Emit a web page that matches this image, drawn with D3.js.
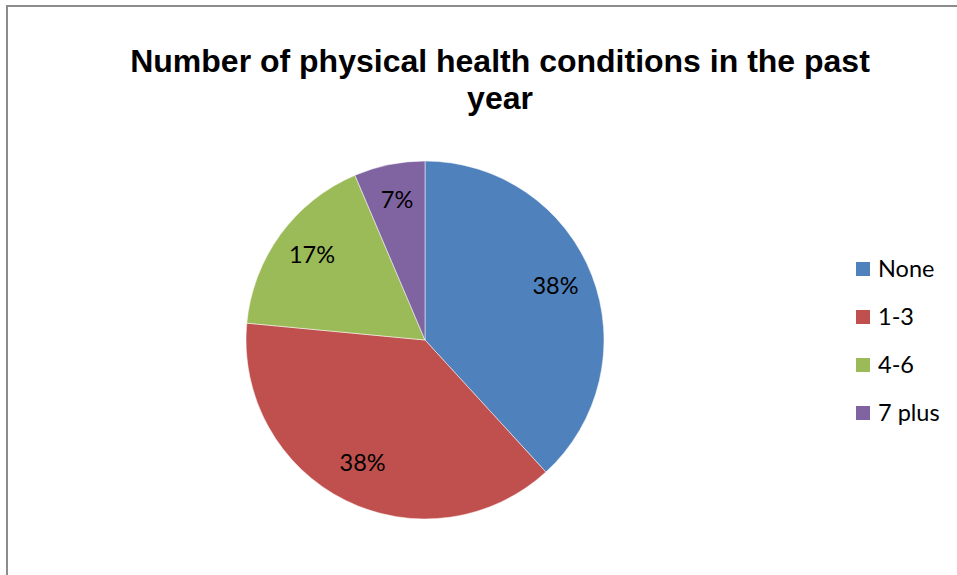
<!DOCTYPE html>
<html>
<head>
<meta charset="utf-8">
<script src="https://cdn.jsdelivr.net/npm/d3@7"></script>
<style>
    body { margin: 0; background: #fff; }
</style>
</head>
<body>
<div id="chart"></div>
<script>
var categories = ["None", "1-3", "4-6", "7 plus"];
var values = [38.2, 38.3, 17.1, 6.4];
var labels = ["38%", "38%", "17%", "7%"];
var titleLines = ["Number of physical health conditions in the past", "year"];

var colors = ["#4F81BD", "#C0504D", "#9BBB59", "#8064A2"];

var dataset = categories.map((c, i) => {
    return {name: c, value: values[i], label: labels[i]};
});

var svg = d3.select("#chart")
        .append("svg")
        .attr("width", 957)
        .attr("height", 575);

// chart area border (runs off the right and bottom)
svg.append("rect")
        .attr("x", 7)
        .attr("y", 6)
        .attr("width", 980)
        .attr("height", 600)
        .attr("fill", "#fff")
        .attr("stroke", "#8c8c8c")
        .attr("stroke-width", 2);

svg.selectAll(".title")
        .data(titleLines)
        .enter()
        .append("text")
        .attr("class", "title")
        .attr("x", 500)
        .attr("y", (d, i) => 72 + i * 37)
        .attr("text-anchor", "middle")
        .style("font-family", "'Liberation Sans', Arial, sans-serif")
        .style("font-weight", "bold")
        .style("font-size", "32px")
        .text((d) => d);

var radius = 179;
var pie = d3.pie()
        .value((d) => d.value)
        .sort(null);

var arc = d3.arc()
        .innerRadius(0)
        .outerRadius(radius);

var labelArc = d3.arc()
        .innerRadius(140)
        .outerRadius(140);

var group = svg.append("g")
        .attr("transform", "translate(425,340)");

var slices = group.selectAll("g")
        .data(pie(dataset))
        .enter()
        .append("g");

slices.append("path")
        .attr("d", arc)
        .attr("fill", (d, i) => colors[i])
        .attr("stroke", "#fff")
        .attr("stroke-width", 0.5);

slices.append("text")
        .attr("transform", (d) => "translate(" + labelArc.centroid(d) + ")")
        .attr("text-anchor", "middle")
        .attr("dy", "0.22em")
        .style("font-family", "Lato, 'Open Sans', sans-serif")
        .style("font-size", "23.5px")
        .style("fill", "#000")
        .text((d) => d.data.label);

//legend
var legend = svg.selectAll(".legend")
        .data(dataset)
        .enter()
        .append("g")
        .attr("class", "legend")
        .attr("transform", (d, i) => "translate(856," + (262 + i * 48) + ")");

legend.append("rect")
        .attr("width", 14)
        .attr("height", 14)
        .attr("fill", (d, i) => colors[i]);

legend.append("text")
        .attr("x", 22)
        .attr("y", 7)
        .attr("dy", "0.34em")
        .style("font-family", "Lato, 'Open Sans', sans-serif")
        .style("font-size", "23.5px")
        .text((d) => d.name);
</script>
</body>
</html>
